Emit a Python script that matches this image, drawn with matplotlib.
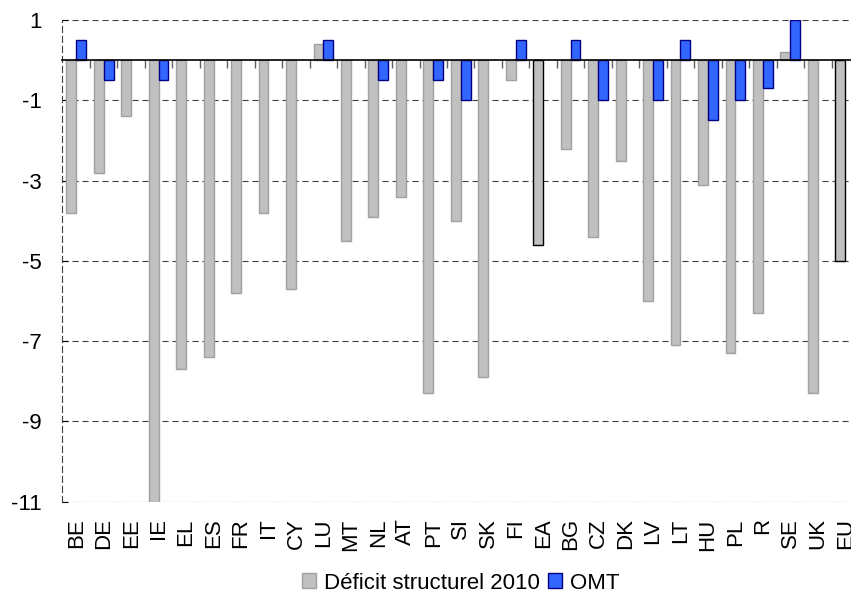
import numpy as np
from matplotlib import pyplot as plt

countries = ['BE', 'DE', 'EE', 'IE', 'EL', 'ES', 'FR', 'IT', 'CY', 'LU', 'MT', 'NL', 'AT', 'PT', 'SI',
             'SK', 'FI', 'EA', 'BG', 'CZ', 'DK', 'LV', 'LT', 'HU', 'PL', 'R', 'SE', 'UK', 'EU']
deficit_2010 = [-3.8, -2.8, -1.4, -11.1, -7.7, -7.4, -5.8, -3.8, -5.7, 0.4, -4.5, -3.9, -3.4, -8.3, -4.0,
                -7.9, -0.5, -4.6, -2.2, -4.4, -2.5, -6.0, -7.1, -3.1, -7.3, -6.3, 0.2, -8.3, -5.0]
omt = [0.5, -0.5, np.nan, -0.5, np.nan, np.nan, np.nan, np.nan, np.nan, 0.5, np.nan, -0.5, np.nan, -0.5, -1.0,
       np.nan, 0.5, np.nan, 0.5, -1.0, np.nan, -1.0, 0.5, -1.5, -1.0, -0.7, 1.0, np.nan, np.nan]
aggregates = ['EA', 'EU']

if __name__ == "__main__":
    plt.rcParams['font.family'] = ['Liberation Sans', 'DejaVu Sans']
    fig = plt.figure(figsize=(8.51, 5.93), dpi=100)
    ax = fig.add_axes([0.0734, 0.154, 0.936, 0.812])

    x = np.arange(len(countries))
    w = 0.36
    edges = ['black' if c in aggregates else '#a0a0a0' for c in countries]
    ax.bar(x - w / 2, deficit_2010, w, color='#c0c0c0', edgecolor=edges, linewidth=1,
           label='Déficit structurel 2010', zorder=3)
    ax.bar(x + w / 2, omt, w, color='#3366ff', edgecolor='#000080', linewidth=1,
           label='OMT', zorder=3)

    ax.set_xlim(-0.5, len(countries) - 0.5)
    ax.set_ylim(-11, 1)
    ax.set_yticks(np.arange(1, -12, -2))
    ax.set_yticklabels([str(v) for v in range(1, -12, -2)], fontsize=16)
    ax.set_xticks(x)
    ax.set_xticklabels(countries, rotation=90, fontsize=16)
    ax.tick_params(axis='x', length=0, pad=12)
    ax.tick_params(axis='y', length=4, direction='in', pad=15)
    ax.grid(True, axis='y', color='#404040', linestyle=(0, (5.5, 3.5)), linewidth=0.8, zorder=0)

    for s in ['top', 'right', 'bottom']:
        ax.spines[s].set_visible(False)
    ax.spines['left'].set_linestyle((0, (5.5, 3.5)))
    ax.spines['left'].set_color('#404040')
    ax.spines['left'].set_linewidth(0.8)

    # zero line with category separators
    ax2 = ax.twiny()
    ax2.set_xlim(ax.get_xlim())
    for s in ['right', 'bottom', 'left']:
        ax2.spines[s].set_visible(False)
    ax2.spines['top'].set_position(('data', 0))
    ax2.spines['top'].set_zorder(5)
    ax2.spines['top'].set_linewidth(1.2)
    ax2.set_xticks(x[:-1] + 0.5)
    ax2.set_xticklabels([])
    ax2.tick_params(axis='x', direction='in', length=6, color='#606060', width=1)

    ax.legend(loc='center', bbox_to_anchor=(0.5, -0.169), ncol=2, frameon=False, fontsize=16,
              handlelength=0.65, handleheight=0.65, handletextpad=0.35, columnspacing=0.35,
              borderpad=0)

    plt.savefig('out.png', dpi=100)
